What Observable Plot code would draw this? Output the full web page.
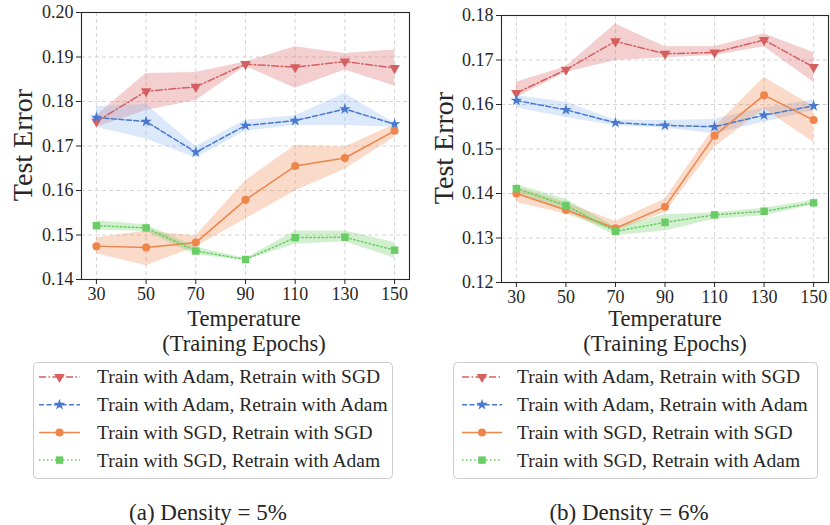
<!DOCTYPE html>
<html>
<head>
<meta charset="utf-8">
<script src="https://cdn.jsdelivr.net/npm/d3@7"></script>
<script src="https://cdn.jsdelivr.net/npm/@observablehq/plot@0.6"></script>
<style>
  html, body { margin: 0; padding: 0; background: #fff; }
  #wrap { position: relative; width: 830px; height: 525px; overflow: hidden; font-family: 'Liberation Serif', 'Times New Roman', serif; }
  #wrap > div.panel { position: absolute; top: 0; }
  #overlay { position: absolute; left: 0; top: 0; pointer-events: none; }
  #overlay text { font-family: 'Liberation Serif', 'Times New Roman', serif; }
</style>
</head>
<body>
<div id="wrap"></div>
<script>
// ---------- data ----------
const epochs = [30, 50, 70, 90, 110, 130, 150];
const seriesNames = [
  "Train with Adam, Retrain with SGD",
  "Train with Adam, Retrain with Adam",
  "Train with SGD, Retrain with SGD",
  "Train with SGD, Retrain with Adam"
];
const yTicks5 = [0.14, 0.15, 0.16, 0.17, 0.18, 0.19, 0.20];
const yTicks6 = [0.12, 0.13, 0.14, 0.15, 0.16, 0.17, 0.18];

// Density = 5%
const adamSgd5   = [0.1755, 0.1823, 0.1833, 0.1884, 0.1877, 0.1890, 0.1875];
const adamSgd5Lo = [0.1742, 0.1780, 0.1802, 0.1879, 0.1830, 0.1871, 0.1835];
const adamSgd5Hi = [0.1768, 0.1863, 0.1865, 0.1889, 0.1923, 0.1908, 0.1916];
const adamAdam5   = [0.1764, 0.1755, 0.1686, 0.1746, 0.1757, 0.1783, 0.1749];
const adamAdam5Lo = [0.1742, 0.1716, 0.1673, 0.1733, 0.1746, 0.1746, 0.1742];
const adamAdam5Hi = [0.1788, 0.1794, 0.1699, 0.1758, 0.1768, 0.1818, 0.1751];
const sgdSgd5   = [0.1475, 0.1472, 0.1483, 0.1579, 0.1655, 0.1673, 0.1734];
const sgdSgd5Lo = [0.1458, 0.1431, 0.1473, 0.1536, 0.1599, 0.1648, 0.1719];
const sgdSgd5Hi = [0.1493, 0.1509, 0.1498, 0.1622, 0.1701, 0.1698, 0.1748];
const sgdAdam5   = [0.1521, 0.1516, 0.1464, 0.1445, 0.1494, 0.1495, 0.1466];
const sgdAdam5Lo = [0.1511, 0.1508, 0.1455, 0.1443, 0.1479, 0.1485, 0.1448];
const sgdAdam5Hi = [0.1532, 0.1523, 0.1473, 0.1447, 0.1509, 0.1509, 0.1483];

// Density = 6%
const adamSgd6   = [0.1626, 0.1678, 0.1742, 0.1714, 0.1717, 0.1745, 0.1684];
const adamSgd6Lo = [0.1616, 0.1672, 0.1699, 0.1705, 0.1710, 0.1730, 0.1650];
const adamSgd6Hi = [0.1650, 0.1685, 0.1781, 0.1730, 0.1730, 0.1759, 0.1717];
const adamAdam6   = [0.1609, 0.1588, 0.1559, 0.1553, 0.1550, 0.1576, 0.1597];
const adamAdam6Lo = [0.1592, 0.1571, 0.1552, 0.1547, 0.1534, 0.1560, 0.1586];
const adamAdam6Hi = [0.1620, 0.1605, 0.1565, 0.1564, 0.1567, 0.1592, 0.1610];
const sgdSgd6   = [0.1400, 0.1363, 0.1322, 0.1370, 0.1530, 0.1621, 0.1565];
const sgdSgd6Lo = [0.1380, 0.1354, 0.1316, 0.1357, 0.1504, 0.1590, 0.1515];
const sgdSgd6Hi = [0.1415, 0.1380, 0.1337, 0.1387, 0.1549, 0.1661, 0.1595];
const sgdAdam6   = [0.1411, 0.1373, 0.1315, 0.1335, 0.1352, 0.1360, 0.1379];
const sgdAdam6Lo = [0.1402, 0.1361, 0.1305, 0.1316, 0.1342, 0.1350, 0.1375];
const sgdAdam6Hi = [0.1420, 0.1387, 0.1324, 0.1352, 0.1357, 0.1367, 0.1385];

// ---------- styles ----------
const styles = [
  {color: "#d65f5f", band: "#d65f5f", bandOpacity: 0.3,  dash: "7,2.5,1.5,2.5", symbol: "triangle", rotate: 180, r: 3.9},
  {color: "#4878d0", band: "#8ab6f0", bandOpacity: 0.3,  dash: "5,2.5",         symbol: "star",     rotate: 0,   r: 3.6},
  {color: "#ee854a", band: "#ee854a", bandOpacity: 0.3,  dash: null,            symbol: "circle",   rotate: 0,   r: 4.0},
  {color: "#6acc64", band: "#6acc64", bandOpacity: 0.3,  dash: "1.5,2.5",       symbol: "square",   rotate: 0,   r: 4.2}
];

function buildRows(vals, los, his) {
  const rows = [];
  seriesNames.forEach((name, si) => {
    epochs.forEach((e, i) => rows.push({series: name, si, epoch: e, value: vals[si][i], lo: los[si][i], hi: his[si][i]}));
  });
  return rows;
}
const rows5 = buildRows([adamSgd5, adamAdam5, sgdSgd5, sgdAdam5], [adamSgd5Lo, adamAdam5Lo, sgdSgd5Lo, sgdAdam5Lo], [adamSgd5Hi, adamAdam5Hi, sgdSgd5Hi, sgdAdam5Hi]);
const rows6 = buildRows([adamSgd6, adamAdam6, sgdSgd6, sgdAdam6], [adamSgd6Lo, adamAdam6Lo, sgdSgd6Lo, sgdAdam6Lo], [adamSgd6Hi, adamAdam6Hi, sgdSgd6Hi, sgdAdam6Hi]);

function panel(rows, yTicks, m) {
  const marks = [
    Plot.gridX(epochs, {stroke: "#d0d0d0", strokeOpacity: 1, strokeDasharray: "4,3", strokeWidth: 0.9}),
    Plot.gridY(yTicks, {stroke: "#d0d0d0", strokeOpacity: 1, strokeDasharray: "4,3", strokeWidth: 0.9})
  ];
  styles.forEach((s, si) => {
    const d = rows.filter(r => r.si === si);
    marks.push(Plot.areaY(d, {x: "epoch", y1: "lo", y2: "hi", fill: s.band, fillOpacity: s.bandOpacity}));
  });
  styles.forEach((s, si) => {
    const d = rows.filter(r => r.si === si);
    marks.push(Plot.line(d, {x: "epoch", y: "value", stroke: s.color, strokeWidth: 1.5, strokeDasharray: s.dash || undefined}));
    marks.push(Plot.dot(d, {x: "epoch", y: "value", fill: s.color, symbol: s.symbol, rotate: s.rotate, r: s.r}));
  });
  marks.push(Plot.frame({stroke: "#262626", strokeWidth: 1.1}));
  marks.push(Plot.axisX(epochs, {tickSize: 5, tickPadding: 3, label: null, stroke: "#262626", fill: "#262626"}));
  marks.push(Plot.axisY(yTicks, {tickSize: 5, tickPadding: 3, label: null, tickFormat: d3.format(".2f"), stroke: "#262626", fill: "#262626"}));
  return Plot.plot({
    width: 415, height: 310,
    marginLeft: m.left, marginRight: m.right, marginTop: m.top, marginBottom: m.bottom,
    x: {domain: [24, 156]},
    y: {domain: [yTicks[0], yTicks[yTicks.length - 1]]},
    style: {fontFamily: "'Liberation Serif', 'Times New Roman', serif", fontSize: "18px", color: "#262626", background: "transparent", overflow: "visible"},
    marks
  });
}

const wrap = document.getElementById("wrap");
const p1 = document.createElement("div"); p1.className = "panel"; p1.style.left = "0px";
p1.appendChild(panel(rows5, yTicks5, {left: 81, right: 6, top: 12, bottom: 31}));
const p2 = document.createElement("div"); p2.className = "panel"; p2.style.left = "415px";
p2.appendChild(panel(rows6, yTicks6, {left: 86, right: 2, top: 15, bottom: 28}));
wrap.appendChild(p1); wrap.appendChild(p2);

// ---------- overlay: axis titles, legends, captions ----------
const SERIF = "'Liberation Serif', 'Times New Roman', serif";
const ov = d3.select(wrap).append("svg").attr("id", "overlay").attr("width", 830).attr("height", 525)
  .attr("font-family", SERIF).attr("fill", "#262626");

function yTitle(cx, cy) {
  ov.append("text").attr("transform", `translate(${cx},${cy}) rotate(-90)`).attr("text-anchor", "middle")
    .attr("dy", "0.35em").attr("font-size", 28).attr("font-family", SERIF).text("Test Error");
}
yTitle(22, 145); yTitle(443, 148);

function xTitle(cx) {
  ov.append("text").attr("x", cx).attr("y", 326).attr("text-anchor", "middle").attr("font-size", 22.5).attr("font-family", SERIF).text("Temperature");
  ov.append("text").attr("x", cx).attr("y", 351).attr("text-anchor", "middle").attr("font-size", 22.5).attr("font-family", SERIF).text("(Training Epochs)");
}
xTitle(244); xTitle(665);

function legend(x0, y0, w, h, lx0, lx1, tx) {
  const g = ov.append("g");
  g.append("rect").attr("x", x0 + 0.5).attr("y", y0 + 0.5).attr("width", w).attr("height", h).attr("rx", 4)
    .attr("fill", "#fff").attr("fill-opacity", 0.85).attr("stroke", "#cccccc").attr("stroke-width", 1);
  const symMap = {triangle: d3.symbolTriangle, star: d3.symbolStar, circle: d3.symbolCircle, square: d3.symbolSquare};
  styles.forEach((s, i) => {
    const cy = 377 + i * 27.7;
    g.append("line").attr("x1", lx0).attr("x2", lx1).attr("y1", cy).attr("y2", cy)
      .attr("stroke", s.color).attr("stroke-width", 1.5).attr("stroke-dasharray", s.dash || null);
    g.append("path").attr("d", d3.symbol(symMap[s.symbol], Math.PI * s.r * s.r)())
      .attr("transform", `translate(${(lx0 + lx1) / 2},${cy}) rotate(${s.rotate})`).attr("fill", s.color);
    g.append("text").attr("x", tx).attr("y", cy).attr("dy", "0.33em").attr("font-size", 19.5)
      .attr("font-family", SERIF).text(seriesNames[i]);
  });
}
legend(33, 362, 359, 116, 39, 80, 97);
legend(453, 362, 364, 116, 462, 502, 517);

ov.append("text").attr("x", 208).attr("y", 520).attr("text-anchor", "middle").attr("font-size", 23).attr("font-family", SERIF).text("(a) Density = 5%");
ov.append("text").attr("x", 629).attr("y", 520).attr("text-anchor", "middle").attr("font-size", 23).attr("font-family", SERIF).text("(b) Density = 6%");
</script>
</body>
</html>
